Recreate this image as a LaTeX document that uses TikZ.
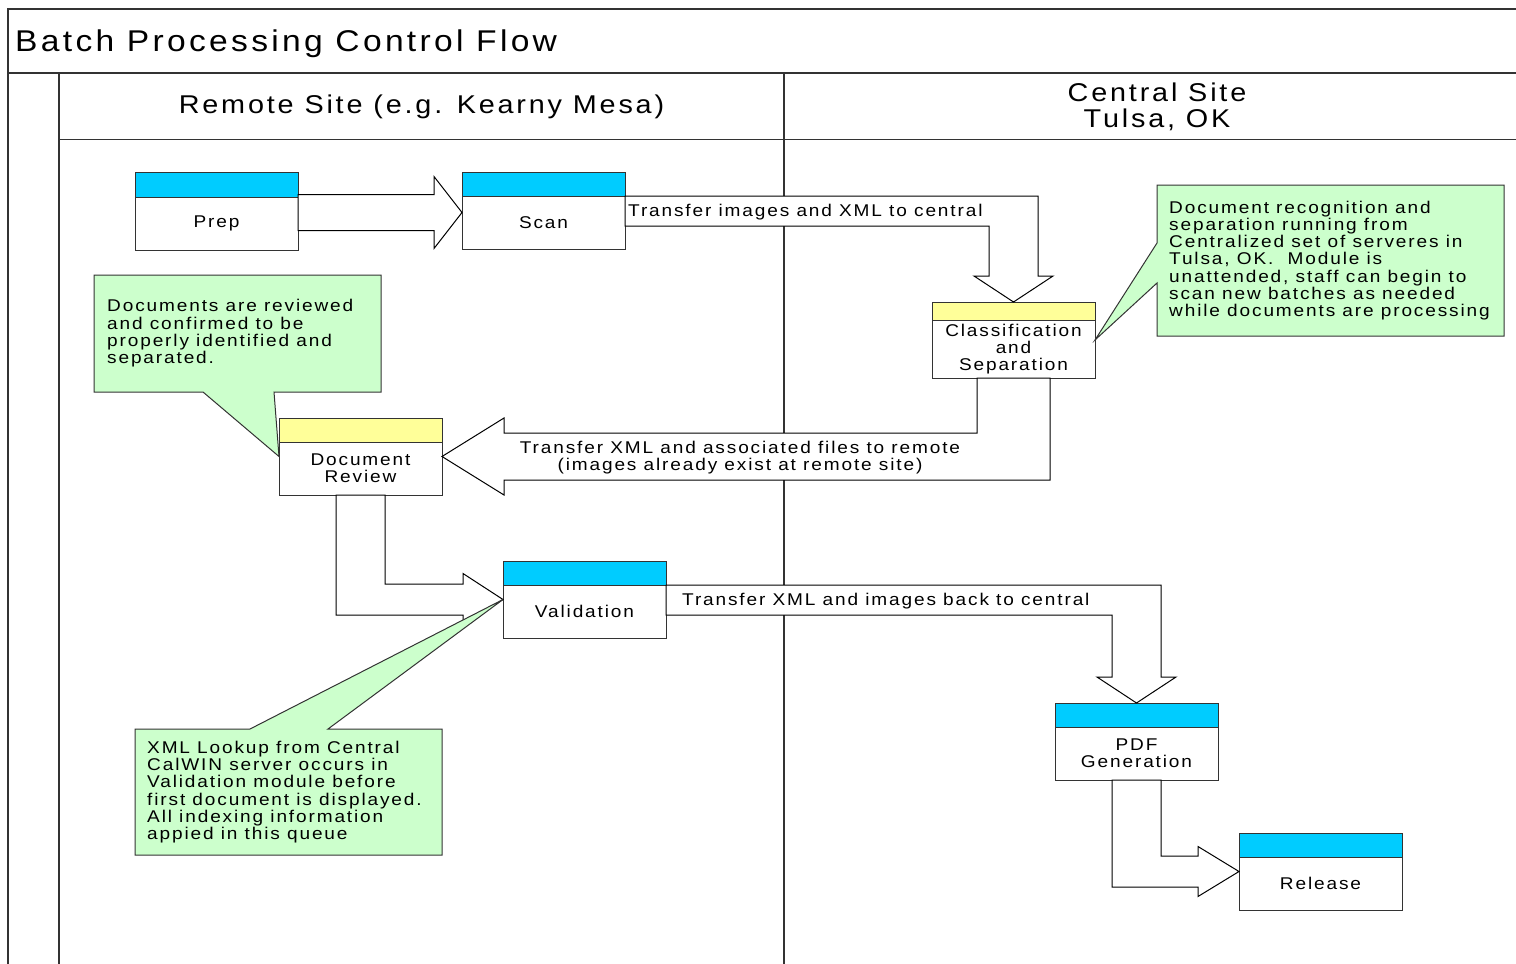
\documentclass[tikz,border=0pt]{standalone}
\usepackage{fontspec}
\setmainfont{Liberation Sans}[FakeStretch=1.12, LetterSpace=11]
\usetikzlibrary{positioning,calc}
\definecolor{BarCyan}{RGB}{0,204,255}
\definecolor{BarYellow}{RGB}{255,255,153}
\definecolor{NoteGreen}{RGB}{204,255,204}
\definecolor{LineGray}{RGB}{51,51,51}

\begin{document}
\begin{tikzpicture}[
    x=1pt, y=-1pt,
    font=\fontsize{17}{17.3}\selectfont,
    lane/.style={
        draw=LineGray,
        line width=1.5pt
    },
    stepbox/.style={
        draw=LineGray,
        line width=1pt,
        fill=white,
        minimum width=163pt,
        minimum height=53pt,
        inner sep=0pt,
        outer sep=0pt,
        align=center
    },
    cyanbar/.style={
        draw=LineGray,
        line width=1pt,
        fill=BarCyan,
        minimum width=163pt,
        minimum height=24pt,
        inner sep=0pt,
        outer sep=0pt
    },
    yellowbar/.style={
        cyanbar,
        fill=BarYellow
    },
    notebox/.style={
        inner sep=0pt,
        outer sep=0pt
    },
    callout/.style={
        draw=LineGray,
        line width=1pt,
        fill=NoteGreen,
        line join=miter
    },
    notetext/.style={
        anchor=west,
        align=left,
        inner sep=0pt
    },
    blockarrow/.style={
        draw=black,
        line width=1pt,
        fill=white,
        line join=miter
    },
    flowlabel/.style={
        inner sep=0pt,
        align=center
    },
    titletext/.style={
        anchor=west,
        inner sep=0pt,
        font=\fontsize{30}{32}\selectfont
    },
    headtext/.style={
        inner sep=0pt,
        align=center,
        font=\fontsize{25.7}{26}\selectfont
    }
]
\useasboundingbox (0,0) rectangle (1516,964);

\draw[lane] (1516,9) -- (8,9) -- (8,964);
\draw[lane] (8,73) -- (1516,73);
\draw[lane] (59,73) -- (59,964);
\draw[lane] (784,73) -- (784,964);
\draw[lane, line width=1pt] (59,139) -- (1516,139);

\node[titletext] (title) at (15,44) {Batch Processing Control Flow};
\node[headtext] (remotehead) at (421.5,107) {Remote Site (e.g. Kearny Mesa)};
\node[headtext] (centralhead) at (1157,107) {Central Site\\Tulsa, OK};

\node[stepbox] (prep) at (216.5,223.5) {Prep};
\node[cyanbar, above=0pt of prep, minimum height=25pt] (prepbar) {};
\node[stepbox] (scan) at (543.5,222.5) {Scan};
\node[cyanbar, above=0pt of scan] (scanbar) {};
\node[stepbox, minimum height=58pt] (class) at (1013.5,349) {Classification\\and\\Separation};
\node[yellowbar, minimum height=18pt, above=0pt of class] (classbar) {};
\node[stepbox] (review) at (360.5,468.5) {Document\\Review};
\node[yellowbar, above=0pt of review] (reviewbar) {};
\node[stepbox] (valid) at (584.5,611.5) {Validation};
\node[cyanbar, above=0pt of valid] (validbar) {};
\node[stepbox] (pdf) at (1136.5,753.5) {PDF\\Generation};
\node[cyanbar, above=0pt of pdf] (pdfbar) {};
\node[stepbox] (release) at (1320.5,883.5) {Release};
\node[cyanbar, above=0pt of release] (releasebar) {};

\coordinate (prepTip) at ($(scan.west)+(0,-10)$);
\draw[blockarrow] (prepTip) -- ++(-28,-36) -- ++(0,18)
    -- ($(prep.east |- prepTip)+(0,-18)$) -- ($(prep.east |- prepTip)+(0,18)$)
    -- ($(prepTip)+(-28,18)$) -- ++(0,18) -- cycle;

\draw[blockarrow] (scan.north east) -- ($(scan.north east -| classbar.north)+(24.5,0)$)
    -- ($(classbar.north)+(24.5,-26)$) -- ++(15,0) -- (classbar.north) -- ++(-39.5,-26) -- ++(15,0)
    -- ($(scan.north east -| classbar.north)+(-24.5,30)$) -- ($(scan.north east)+(0,30)$) -- cycle;
\node[flowlabel, anchor=west] (scanlabel) at ($(scan.north east)+(3,16)$) {Transfer images and XML to central};

\coordinate (reviewTip) at ($(review.east)+(0,-12)$);
\draw[blockarrow] (reviewTip) -- ++(62,-38.5) -- ++(0,15)
    -- ($(class.south |- reviewTip)+(-36.5,-23.5)$) -- ($(class.south)+(-36.5,0)$)
    -- ($(class.south)+(36.5,0)$) -- ($(class.south |- reviewTip)+(36.5,23.5)$)
    -- ($(reviewTip)+(62,23.5)$) -- ++(0,15) -- cycle;
\node[flowlabel] (classlabel) at (740,457.5) {Transfer XML and associated files to remote\\(images already exist at remote site)};

\coordinate (validTip) at ($(valid.west)+(0,-12)$);
\draw[blockarrow] (validTip) -- ++(-40,-26) -- ++(0,10.5)
    -- ($(review.south |- validTip)+(24.5,-15.5)$) -- ($(review.south)+(24.5,0)$)
    -- ($(review.south)+(-24.5,0)$) -- ($(review.south |- validTip)+(-24.5,15.5)$)
    -- ($(validTip)+(-40,15.5)$) -- ++(0,10.5) -- cycle;

\draw[blockarrow] (valid.north east) -- ($(valid.north east -| pdfbar.north)+(24.5,0)$)
    -- ($(pdfbar.north)+(24.5,-26)$) -- ++(15,0) -- (pdfbar.north) -- ++(-39.5,-26) -- ++(15,0)
    -- ($(valid.north east -| pdfbar.north)+(-24.5,30)$) -- ($(valid.north east)+(0,30)$) -- cycle;
\node[flowlabel, anchor=west] (validlabel) at ($(valid.north east)+(16,16)$) {Transfer XML and images back to central};

\coordinate (releaseTip) at ($(release.west)+(0,-12)$);
\draw[blockarrow] (releaseTip) -- ++(-41,-25) -- ++(0,9.5)
    -- ($(pdf.south |- releaseTip)+(24.5,-15.5)$) -- ($(pdf.south)+(24.5,0)$)
    -- ($(pdf.south)+(-24.5,0)$) -- ($(pdf.south |- releaseTip)+(-24.5,15.5)$)
    -- ($(releaseTip)+(-41,15.5)$) -- ++(0,9.5) -- cycle;

\coordinate (reviewLeft) at ($(review.west)+(0,-12)$);
\node[notebox, minimum width=287pt, minimum height=117pt] (reviewnote) at (237.5,333.5) {};
\draw[callout] (reviewnote.north west) -- (reviewnote.north east) -- (reviewnote.south east)
    -- ($(reviewnote.south west)+(180,0)$) -- (reviewLeft) -- ($(reviewnote.south west)+(109,0)$)
    -- (reviewnote.south west) -- cycle;
\node[notetext] (reviewnotetext) at ($(reviewnote.west)+(13,0)$) {Documents are reviewed\\and confirmed to be\\properly identified and\\separated.};

\coordinate (classRight) at ($(class.east)+(0,-9)$);
\node[notebox, minimum width=347pt, minimum height=151pt] (classnote) at (1330.5,260.5) {};
\draw[callout] (classnote.north west) -- (classnote.north east) -- (classnote.south east)
    -- (classnote.south west) -- ($(classnote.north west)+(0,98)$) -- (classRight)
    -- ($(classnote.north west)+(0,58)$) -- cycle;
\node[notetext] (classnotetext) at ($(classnote.west)+(12,0)$) {Document recognition and\\separation running from\\Centralized set of serveres in\\Tulsa, OK.~ Module is\\unattended, staff can begin to\\scan new batches as needed\\while documents are processing};

\node[notebox, minimum width=307pt, minimum height=126pt] (validnote) at (288.5,792) {};
\draw[callout] (validnote.north west) -- ($(validnote.north west)+(115,0)$) -- (validTip)
    -- ($(validnote.north west)+(193,0)$) -- (validnote.north east) -- (validnote.south east)
    -- (validnote.south west) -- cycle;
\node[notetext] (validnotetext) at ($(validnote.west)+(12,0)$) {XML Lookup from Central\\CalWIN server occurs in\\Validation module before\\first document is displayed.\\All indexing information\\appied in this queue};

\end{tikzpicture}
\end{document}
